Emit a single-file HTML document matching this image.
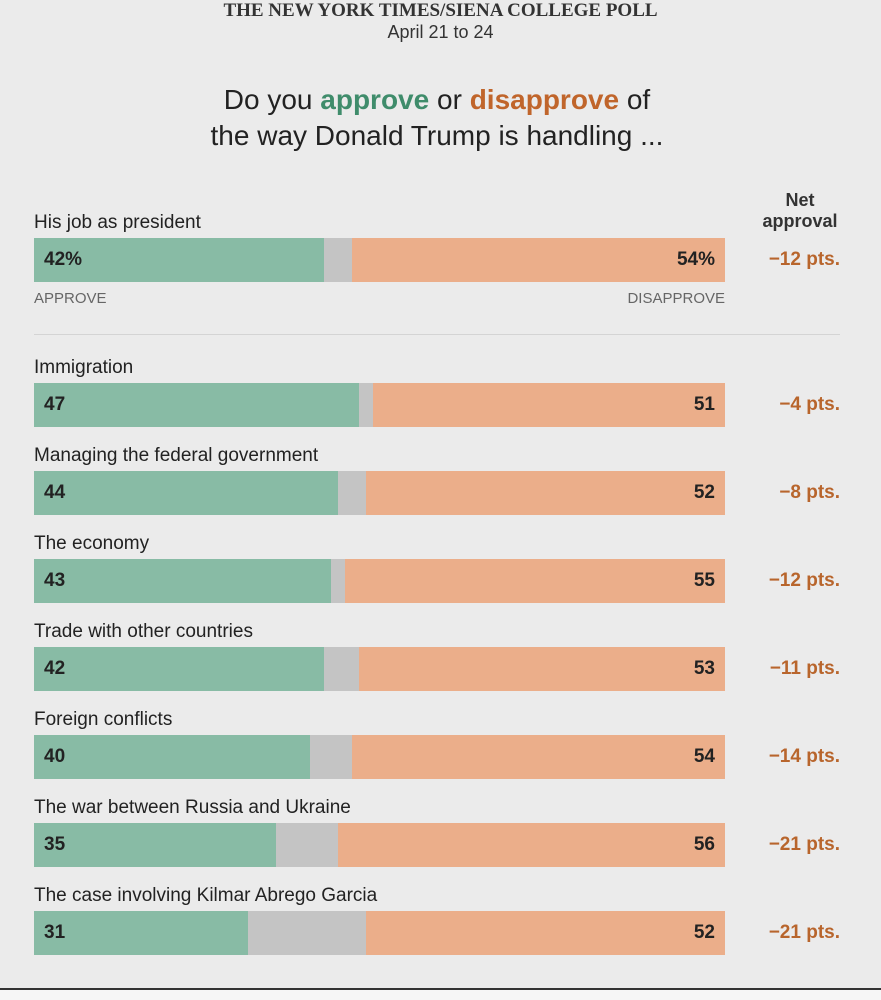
<!DOCTYPE html>
<html><head><meta charset="utf-8"><style>
body{margin:0;width:881px;height:1000px;background:#ebebeb;font-family:"Liberation Sans",sans-serif;position:relative;overflow:hidden;color:#222}
.abs{position:absolute}
</style></head><body>
<div class="abs" style="left:0;width:881px;top:0;text-align:center;font-family:'Liberation Serif',serif;font-weight:bold;font-size:19px;color:#333">THE NEW YORK TIMES/SIENA COLLEGE POLL</div>
<div class="abs" style="left:0;width:881px;top:22px;text-align:center;font-size:18px;color:#333">April 21 to 24</div>
<div class="abs" style="left:0;width:874px;top:82px;text-align:center;font-size:28px;line-height:36px;color:#222">Do you <b style="color:#3f8c6b">approve</b> or <b style="color:#c0652b">disapprove</b> of<br>the way Donald Trump is handling ...</div>
<div class="abs" style="left:750px;width:100px;top:190px;text-align:center;font-weight:bold;font-size:18px;line-height:21px;color:#333">Net<br>approval</div>
<div class="abs" style="left:34px;top:290px;font-size:15px;color:#666">APPROVE</div>
<div class="abs" style="right:156px;top:290px;font-size:15px;color:#666">DISAPPROVE</div>
<div class="abs" style="left:34px;width:806px;top:334px;height:1px;background:#d4d4d4"></div>
<div class="abs" style="left:0;width:881px;top:988px;height:2px;background:#333"></div>
<div class="abs" style="left:0;width:881px;top:990px;height:10px;background:#f6f6f6"></div>
<div id="rows"></div>
<script>
const categories=["His job as president","Immigration","Managing the federal government","The economy","Trade with other countries","Foreign conflicts","The war between Russia and Ukraine","The case involving Kilmar Abrego Garcia"];
const approve=[42,47,44,43,42,40,35,31];
const disapprove=[54,51,52,55,53,54,56,52];
const rowTops=[238,383,471,559,647,735,823,911];
const X0=34,W=691,H=44;
const x=v=>v/100*W;
const root=document.getElementById('rows');
function div(css,txt){const d=document.createElement('div');d.className='abs';d.style.cssText=css;if(txt!=null)d.textContent=txt;root.appendChild(d);return d;}
categories.forEach((c,i)=>{
  const t=rowTops[i],a=approve[i],d=disapprove[i],pct=i===0?'%':'';
  let el=div(`left:${X0}px;top:${t-26}px;font-size:19px;color:#222`,c);
  
  
  el=div(`left:${X0}px;top:${t}px;width:${W}px;height:${H}px;background:#c4c4c4`);
  
  
  el=div(`left:${X0}px;top:${t}px;width:${x(a)}px;height:${H}px;background:#88bba5`);
  
  
  el=div(`left:${X0+W-x(d)}px;top:${t}px;width:${x(d)}px;height:${H}px;background:#ebae8a`);
  
  
  el=div(`left:${X0+10}px;top:${t+11}px;font-size:19px;font-weight:bold;color:#222`,a+pct);
  
  
  el=div(`right:${881-X0-W+10}px;top:${t+11}px;font-size:19px;font-weight:bold;color:#222`,d+pct);
  
  
  el=div(`right:41px;top:${t+11}px;font-size:19px;font-weight:bold;color:#b8652c`,'\u2212'+(d-a)+' pts.');
  
  
});
</script>
</body></html>
